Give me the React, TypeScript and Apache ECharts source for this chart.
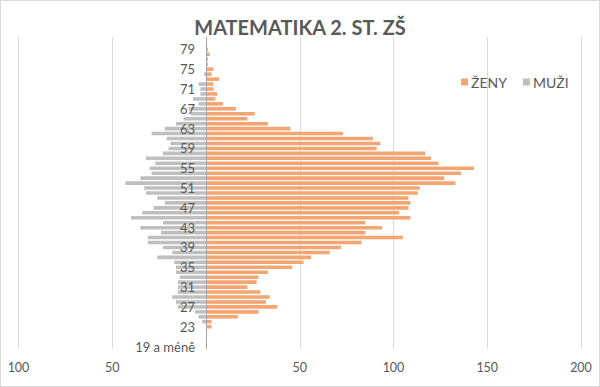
import React, { useEffect, useRef } from "react";
import * as echarts from "echarts";

const ages: string[] = ["19 a méně"];
for (let a = 20; a <= 81; a++) ages.push(String(a));

// ŽENY (women), ages 19 a méně .. 81
const zeny = [
  0, 0, 0, 0, 3, 3, 17, 28, 38, 32,
  34, 29, 22, 27, 28, 33, 46, 52, 56, 66,
  72, 83, 105, 85, 94, 85, 109, 103, 108, 109,
  108, 113, 114, 133, 127, 136, 143, 124, 120, 117,
  91, 93, 89, 73, 45, 33, 22, 26, 16, 9,
  5, 6, 4, 4, 7, 3, 4, 1, 1, 2,
  1, 0, 0,
];

// MUŽI (men), ages 19 a méně .. 81
const muzi = [
  0, 0, 0, 0, 0, 2, 4, 6, 15, 16,
  18, 15, 15, 15, 14, 16, 16, 17, 26, 18,
  23, 31, 31, 24, 35, 23, 40, 34, 28, 22,
  26, 32, 33, 43, 35, 29, 30, 27, 32, 23,
  20, 19, 21, 29, 22, 16, 12, 8, 9, 4,
  7, 3, 3, 4, 0, 1, 0, 0, 0, 0,
  0, 0, 0,
];

const xMin = -100;
const xMax = 200;
const xStep = 50;

const TEXT = "#595959";
const FONT = "Lato, 'Open Sans', sans-serif";
const GRID_LEFT = 17.5;

export default function App() {
  const ref = useRef<HTMLDivElement>(null);
  useEffect(() => {
    document.body.style.margin = "0";
    if (!ref.current) return;
    const chart = echarts.init(ref.current, undefined, { renderer: "svg" });
    chart.setOption({
      animation: false,
      backgroundColor: "#ffffff",
      textStyle: { fontFamily: FONT },
      title: {
        text: "MATEMATIKA 2. ST. ZŠ",
        left: "center",
        top: 11,
        textStyle: { fontFamily: FONT, fontSize: 20, fontWeight: "bold", color: TEXT },
      },
      legend: {
        data: ["ŽENY", "MUŽI"],
        left: 455,
        top: 69,
        icon: "rect",
        itemWidth: 7,
        itemHeight: 7,
        itemGap: 16,
        textStyle: { fontFamily: FONT, fontSize: 14, color: TEXT, padding: [0, 0, 0, -2] },
      },
      grid: {
        left: GRID_LEFT,
        right: 18,
        top: 36,
        bottom: 37,
        containLabel: false,
        outerBoundsMode: "none",
      },
      xAxis: {
        type: "value",
        min: xMin,
        max: xMax,
        interval: xStep,
        axisLine: { show: false },
        axisTick: { show: false },
        splitLine: { show: true, lineStyle: { color: "#D9D9D9", width: 1 } },
        axisLabel: {
          color: TEXT,
          fontSize: 12.5,
          fontFamily: FONT,
          margin: 12,
          formatter: (v: number) => (v === 0 ? "" : String(Math.abs(v))),
        },
      },
      yAxis: {
        type: "category",
        data: ages,
        z: 10,
        axisLine: { show: true, onZero: false, lineStyle: { color: "#A6A6A6", width: 1 } },
        axisTick: { show: false },
        axisLabel: { interval: 3, color: TEXT, fontSize: 13, fontFamily: FONT, margin: 11 },
        splitLine: { show: false },
      },
      series: [
        {
          name: "ŽENY",
          type: "bar",
          stack: "total",
          data: zeny,
          barCategoryGap: "28%",
          itemStyle: { color: "#F4A571" },
        },
        {
          name: "MUŽI",
          type: "bar",
          stack: "total",
          data: muzi.map((v) => -v),
          barCategoryGap: "28%",
          itemStyle: { color: "#BFBFBF" },
        },
      ],
    });
    const zeroPx = chart.convertToPixel({ xAxisIndex: 0 }, 0) as number;
    if (typeof zeroPx === "number" && isFinite(zeroPx)) {
      chart.setOption({ yAxis: { offset: GRID_LEFT - zeroPx } });
    }
    return () => chart.dispose();
  }, []);
  return (
    <div
      style={{
        position: "absolute",
        left: 0,
        top: 0,
        width: 600,
        height: 387,
        boxSizing: "border-box",
        border: "1px solid #D9D9D9",
        background: "#fff",
      }}
    >
      <div ref={ref} style={{ width: 598, height: 385 }} />
    </div>
  );
}
